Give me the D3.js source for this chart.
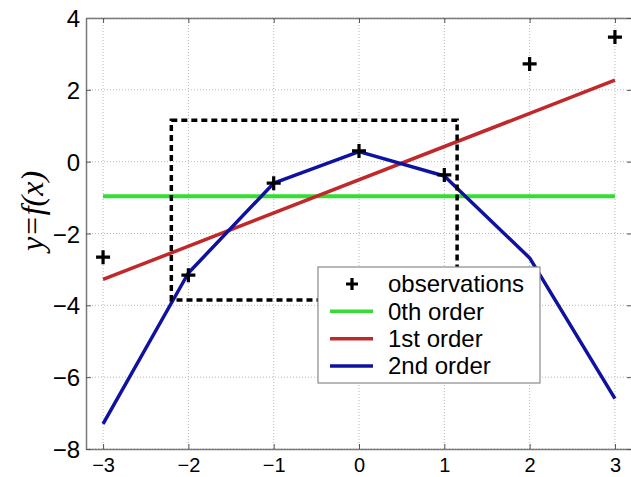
<!DOCTYPE html>
<html>
<head>
<meta charset="utf-8">
<script src="https://cdn.jsdelivr.net/npm/d3@7"></script>
<style>
  body { margin: 0; background: #fff; }
  svg { display: block; }
</style>
</head>
<body>
<svg id="chart" width="631" height="477"></svg>
<script>
// values
const xs = [-3, -2, -1, 0, 1, 2, 3];
const observations = [-2.66, -3.16, -0.6, 0.3, -0.37, 2.72, 3.47];
const order0 = [-0.96, -0.96];           // at x = -3 and 3
const order1 = [-3.28, 2.27];            // at x = -3 and 3
const order2 = [-7.3, -3.1, -0.6, 0.28, -0.4, -2.68, -6.6];
const boxX = [-2.2, 1.15];
const boxY = [-3.85, 1.15];
const xTicks = [-3, -2, -1, 0, 1, 2, 3];
const yTicks = [-8, -6, -4, -2, 0, 2, 4];
const legendLabels = ['observations', '0th order', '1st order', '2nd order'];
const colors = {order0: '#33dd33', order1: '#c0282a', order2: '#0f12a0'};

const svg = d3.select('#chart');
const x = d3.scaleLinear().domain([-3.2, 3.2]).range([86, 632]);
const y = d3.scaleLinear().domain([-8, 4]).range([449, 18]);
const font = 'Liberation Sans, Arial, sans-serif';

// grid
svg.append('g')
    .selectAll('line')
    .data(xTicks)
    .join('line')
    .attr('x1', d => x(d)).attr('x2', d => x(d))
    .attr('y1', y(-8)).attr('y2', y(4))
    .style('stroke', '#b8b8b8').style('stroke-width', 1).style('stroke-dasharray', '1,2');
svg.append('g')
    .selectAll('line')
    .data(yTicks)
    .join('line')
    .attr('x1', x(-3.2)).attr('x2', x(3.2))
    .attr('y1', d => y(d)).attr('y2', d => y(d))
    .style('stroke', '#b8b8b8').style('stroke-width', 1).style('stroke-dasharray', '1,2');

// axes (ticks pointing inward, box style)
const axBottom = svg.append('g').attr('transform', `translate(0,${y(-8)})`)
    .call(d3.axisBottom(x).tickValues(xTicks).tickSizeInner(-5).tickSizeOuter(0).tickPadding(9).tickFormat(d3.format('d')));
const axLeft = svg.append('g').attr('transform', `translate(${x(-3.2)},0)`)
    .call(d3.axisLeft(y).tickValues(yTicks).tickSizeInner(-5).tickSizeOuter(0).tickPadding(6).tickFormat(d3.format('d')));
const axTop = svg.append('g').attr('transform', `translate(0,${y(4)})`)
    .call(d3.axisTop(x).tickValues(xTicks).tickSizeInner(-5).tickSizeOuter(0).tickFormat(''));
const axRight = svg.append('g').attr('transform', `translate(${x(3.2)},0)`)
    .call(d3.axisRight(y).tickValues(yTicks).tickSizeInner(-5).tickSizeOuter(0).tickFormat(''));
[axBottom, axLeft, axTop, axRight].forEach(g => {
    g.select('.domain').style('stroke', '#7a7a7a').style('stroke-width', 1.5);
    g.selectAll('.tick line').style('stroke', '#555').style('stroke-width', 1);
    g.selectAll('.tick text').style('font-family', font).style('font-size', '24px').style('fill', '#000');
});
axBottom.selectAll('.tick text').attr('dy', '0.71em').style('font-size', '20px');
axLeft.selectAll('.tick text').attr('dy', '0.36em');

// y label
svg.append('text')
    .attr('transform', `translate(43,211) rotate(-90)`)
    .attr('text-anchor', 'middle')
    .style('font-family', 'Liberation Serif, Times New Roman, serif')
    .style('font-style', 'italic')
    .style('font-size', '32px')
    .text('y=f(x)');

// fitted lines
const line = d3.line().x(d => x(d[0])).y(d => y(d[1]));
svg.append('path')
    .attr('d', line([[-3, order0[0]], [3, order0[1]]]))
    .style('fill', 'none').style('stroke', colors.order0).style('stroke-width', 4);
svg.append('path')
    .attr('d', line([[-3, order1[0]], [3, order1[1]]]))
    .style('fill', 'none').style('stroke', colors.order1).style('stroke-width', 3.5);
svg.append('path')
    .attr('d', line(xs.map((v, i) => [v, order2[i]])))
    .style('fill', 'none').style('stroke', colors.order2).style('stroke-width', 3.5)
    .style('stroke-linejoin', 'round');

// dashed box
svg.append('rect')
    .attr('x', x(boxX[0])).attr('y', y(boxY[1]))
    .attr('width', x(boxX[1]) - x(boxX[0]))
    .attr('height', y(boxY[0]) - y(boxY[1]))
    .style('fill', 'none').style('stroke', '#000').style('stroke-width', 3.5)
    .style('stroke-dasharray', '6,4');

// observation markers
const plus = (g, cx, cy, s) => {
    g.append('path')
        .attr('d', `M${cx - s},${cy}H${cx + s}M${cx},${cy - s}V${cy + s}`)
        .style('stroke', '#000').style('stroke-width', 3.2).style('fill', 'none');
};
const obsG = svg.append('g');
xs.forEach((v, i) => plus(obsG, x(v), y(observations[i]), 7));

// legend
const lg = svg.append('g').attr('transform', 'translate(318,267)');
lg.append('rect').attr('width', 222).attr('height', 116)
    .style('fill', '#fff').style('stroke', '#8a8a8a').style('stroke-width', 1.2);
const rowY = d3.scalePoint().domain(legendLabels).range([17, 99]);
plus(lg, 34, rowY(legendLabels[0]), 6);
[colors.order0, colors.order1, colors.order2].forEach((c, i) => {
    lg.append('line')
        .attr('x1', 12).attr('x2', 55)
        .attr('y1', rowY(legendLabels[i + 1])).attr('y2', rowY(legendLabels[i + 1]))
        .style('stroke', c).style('stroke-width', 3.5);
});
lg.selectAll('text.lbl')
    .data(legendLabels)
    .join('text')
    .attr('class', 'lbl')
    .attr('x', 70)
    .attr('y', d => rowY(d))
    .attr('dy', '0.35em')
    .style('font-family', font)
    .style('font-size', '24px')
    .text(d => d);
</script>
</body>
</html>
